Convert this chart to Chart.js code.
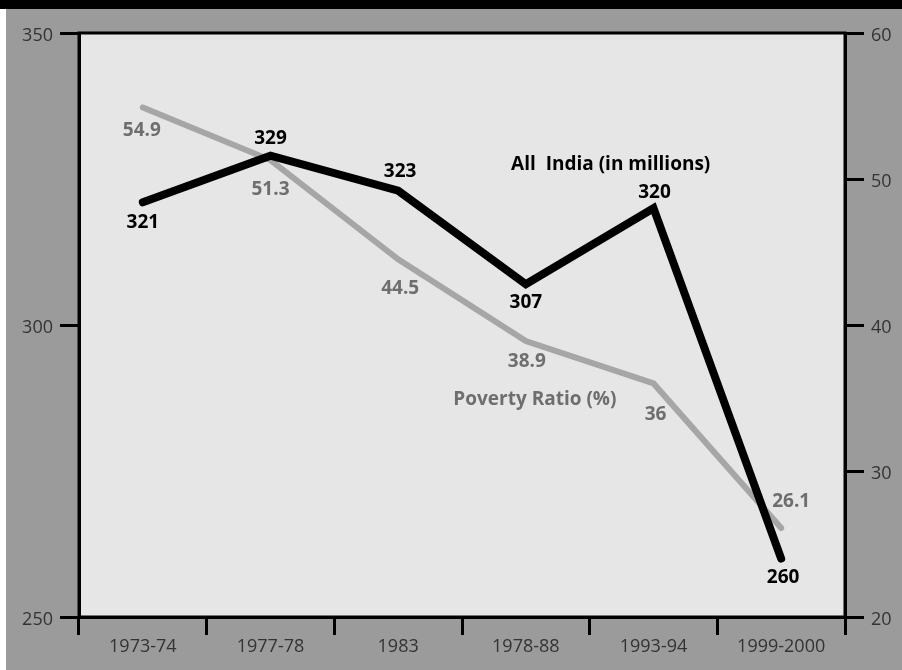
<!DOCTYPE html>
<html>
<head>
<meta charset="utf-8">
<script src="https://cdn.jsdelivr.net/npm/chart.js@4.4.1/dist/chart.umd.min.js"></script>
<style>
  html, body { margin: 0; padding: 0; background: #ffffff; }
  #band { position: absolute; left: 0; top: 0; width: 902px; height: 9px; background: #000; }
  #wrap { position: absolute; left: 6px; top: 9px; width: 896px; height: 661px; background: #9b9b9b; }
  canvas { display: block; }
</style>
</head>
<body>
<div id="band"></div>
<div id="wrap"><canvas id="c" width="896" height="661"></canvas></div>
<script>
// ---- data ----
const categories = ['1973-74', '1977-78', '1983', '1978-88', '1993-94', '1999-2000'];
const povertyMillions = [321, 329, 323, 307, 320, 260];
const povertyRatio = [54.9, 51.3, 44.5, 38.9, 36, 26.1];
const leftTicks = [250, 300, 350];
const rightTicks = [20, 30, 40, 50, 60];

// label placement offsets (pixels, relative to each point)
const millionsLabelOffsets = [[0, 20], [0, -17], [2, -19], [0, 18], [1, -16], [2, 19]];
const ratioLabelOffsets = [[-1, 23], [0, 30], [2, 29], [1, 21], [2, 31], [10, -26]];

const boldFont = 'bold 19px "Open Sans", "Noto Sans", sans-serif';
const tickFont = { family: '"Open Sans", sans-serif', size: 18, weight: 'normal' };
const tickColor = '#333333';

const framePlugin = {
  id: 'frame',
  beforeDraw(chart) {
    const { ctx, chartArea: a } = chart;
    ctx.save();
    ctx.fillStyle = '#e6e6e6';
    ctx.fillRect(a.left, a.top, a.right - a.left, a.bottom - a.top);
    ctx.restore();
  },
  afterDatasetsDraw(chart) {
    const { ctx, chartArea: a } = chart;
    ctx.save();
    ctx.strokeStyle = '#000';
    ctx.lineWidth = 3;
    ctx.strokeRect(a.left, a.top, a.right - a.left, a.bottom - a.top);
    // data labels
    ctx.textAlign = 'center';
    ctx.textBaseline = 'middle';
    ctx.font = boldFont;
    const m0 = chart.getDatasetMeta(0), m1 = chart.getDatasetMeta(1);
    ctx.fillStyle = '#6e6e6e';
    m1.data.forEach((p, i) => {
      const o = ratioLabelOffsets[i];
      ctx.fillText(String(povertyRatio[i]), p.x + o[0], p.y + o[1]);
    });
    ctx.fillStyle = '#000';
    m0.data.forEach((p, i) => {
      const o = millionsLabelOffsets[i];
      ctx.fillText(String(povertyMillions[i]), p.x + o[0], p.y + o[1]);
    });
    // series annotations
    const x = chart.scales.x;
    const yL = chart.scales.yL, yR = chart.scales.yR;
    ctx.fillStyle = '#000';
    ctx.font = 'bold 19px "Open Sans", "Noto Sans", sans-serif';
    ctx.fillText('All  India (in millions)', (x.getPixelForValue(3) + x.getPixelForValue(4)) / 2 + 21, yL.getPixelForValue(328) + 3);
    ctx.fillStyle = '#6e6e6e';
    ctx.fillText('Poverty Ratio (%)', x.getPixelForValue(3) + 9, yR.getPixelForValue(36) + 16);
    ctx.restore();
  }
};

new Chart(document.getElementById('c'), {
  type: 'line',
  data: {
    labels: categories,
    datasets: [
      {
        label: 'All India (in millions)',
        data: povertyMillions,
        yAxisID: 'yL',
        borderColor: '#000000',
        borderWidth: 8,
        pointRadius: 0,
        borderCapStyle: 'round',
        borderJoinStyle: 'miter',
        tension: 0,
        order: 1
      },
      {
        label: 'Poverty Ratio (%)',
        data: povertyRatio,
        yAxisID: 'yR',
        borderColor: '#a6a6a6',
        borderWidth: 6,
        pointRadius: 0,
        borderCapStyle: 'round',
        borderJoinStyle: 'miter',
        tension: 0,
        order: 2
      }
    ]
  },
  options: {
    responsive: false,
    animation: false,
    devicePixelRatio: 1,
    layout: { padding: { top: 24, left: 0, right: 0, bottom: 0 } },
    plugins: { legend: { display: false }, tooltip: { enabled: false } },
    scales: {
      x: {
        offset: true,
        grid: { offset: true, drawOnChartArea: false, drawTicks: true, tickLength: 18, color: '#000', lineWidth: 3 },
        border: { display: true, color: '#000', width: 3 },
        ticks: { color: tickColor, font: tickFont, padding: 1, maxRotation: 0 },
        afterFit(s) { s.height = 53; }
      },
      yL: {
        position: 'left',
        min: 250, max: 350,
        afterBuildTicks(s) { s.ticks = leftTicks.map(v => ({ value: v })); },
        grid: { drawOnChartArea: false, drawTicks: true, tickLength: 19, color: '#000', lineWidth: 3 },
        border: { display: true, color: '#000', width: 3 },
        ticks: { color: tickColor, font: tickFont, padding: 7, labelOffset: 3 },
        afterFit(s) { s.width = 73; }
      },
      yR: {
        position: 'right',
        min: 20, max: 60,
        afterBuildTicks(s) { s.ticks = rightTicks.map(v => ({ value: v })); },
        grid: { drawOnChartArea: false, drawTicks: true, tickLength: 19, color: '#000', lineWidth: 3 },
        border: { display: true, color: '#000', width: 3 },
        ticks: { color: tickColor, font: tickFont, padding: 7, labelOffset: 3 },
        afterFit(s) { s.width = 57; }
      }
    }
  },
  plugins: [framePlugin]
});
</script>
</body>
</html>
